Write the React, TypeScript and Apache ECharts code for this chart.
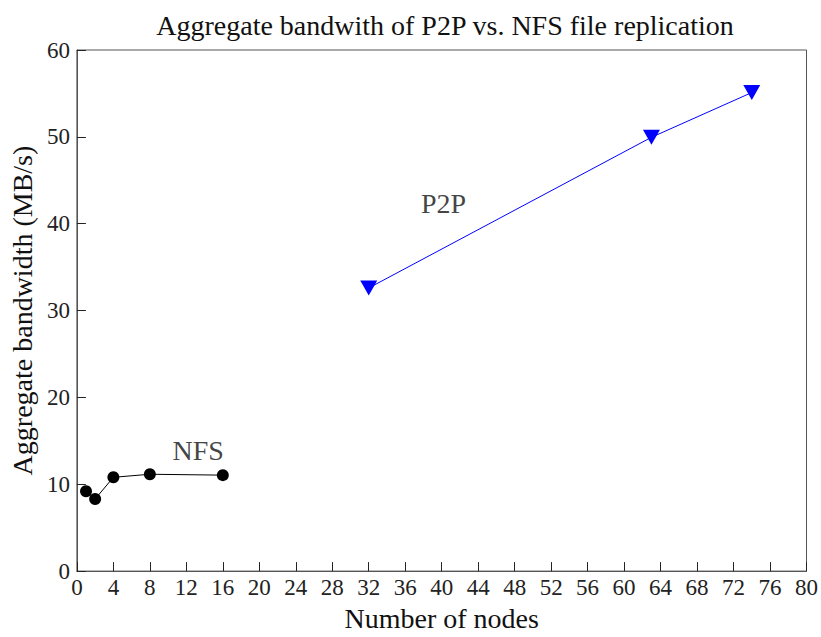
import React, { useEffect, useRef } from "react";
import * as echarts from "echarts";

const titleText = "Aggregate bandwith of P2P vs. NFS file replication";
const xAxisName = "Number of nodes";
const yAxisName = "Aggregate bandwidth (MB/s)";

const nfsNodes = [1, 2, 4, 8, 16];
const nfsBandwidth = [9.2, 8.3, 10.8, 11.15, 11.05];

const p2pNodes = [32, 63, 74];
const p2pBandwidth = [32.6, 49.95, 55.1];

const seriesLabels = ["NFS", "P2P"];
const labelX = [13.3, 40.2];
const labelY = [13.9, 42.3];

const FONT = "Liberation Serif";

export default function App() {
  const ref = useRef<HTMLDivElement>(null);
  useEffect(() => {
    if (!ref.current) return;
    const chart = echarts.init(ref.current, null, { renderer: "svg" });
    chart.setOption({
      animation: false,
      backgroundColor: "#ffffff",
      title: {
        text: titleText,
        left: 440,
        top: 6,
        textAlign: "center",
        textStyle: { fontFamily: FONT, fontSize: 28, fontWeight: "normal", color: "#111" },
      },
      grid: { left: 75, right: 14, top: 50, bottom: 54, containLabel: false, show: true, borderColor: "#555", borderWidth: 1 },
      xAxis: {
        type: "value",
        min: 0,
        max: 80,
        interval: 4,
        name: xAxisName,
        nameLocation: "middle",
        nameGap: 28,
        nameTextStyle: { fontFamily: FONT, fontSize: 28, color: "#111" },
        axisLine: { show: true, lineStyle: { color: "#555", width: 1 } },
        axisTick: { show: true, inside: true, length: 9, lineStyle: { color: "#222" } },
        axisLabel: { fontFamily: FONT, fontSize: 23, color: "#222", margin: 5 },
        splitLine: { show: false },
      },
      yAxis: {
        type: "value",
        min: 0,
        max: 60,
        interval: 10,
        name: yAxisName,
        nameLocation: "middle",
        nameGap: 36,
        nameTextStyle: { fontFamily: FONT, fontSize: 28, color: "#111" },
        axisLine: { show: true, lineStyle: { color: "#555", width: 1 } },
        axisTick: { show: true, inside: true, length: 9, lineStyle: { color: "#222" } },
        axisLabel: { fontFamily: FONT, fontSize: 23, color: "#222", margin: 7 },
        splitLine: { show: false },
      },
      series: [
        {
          name: "NFS",
          type: "line",
          data: nfsNodes.map((x, i) => [x, nfsBandwidth[i]]),
          symbol: "circle",
          symbolSize: 12,
          itemStyle: { color: "#000" },
          lineStyle: { color: "#000", width: 1 },
        },
        {
          name: "P2P",
          type: "line",
          data: p2pNodes.map((x, i) => [x, p2pBandwidth[i]]),
          symbol: "triangle",
          symbolRotate: 180,
          symbolSize: [17, 15],
          itemStyle: { color: "#0000ff" },
          lineStyle: { color: "#0000ff", width: 1 },
        },
        {
          name: "labels",
          type: "scatter",
          data: seriesLabels.map((t, i) => [labelX[i], labelY[i], t]),
          symbolSize: 0,
          label: {
            show: true,
            position: "inside",
            formatter: (p: any) => p.value[2],
            fontFamily: FONT,
            fontSize: 28,
            color: "#111",
          },
          silent: true,
        },
      ],
    });
    return () => chart.dispose();
  }, []);
  return <div ref={ref} style={{ width: 821, height: 637, position: "absolute", left: 0, top: 0 }} />;
}
